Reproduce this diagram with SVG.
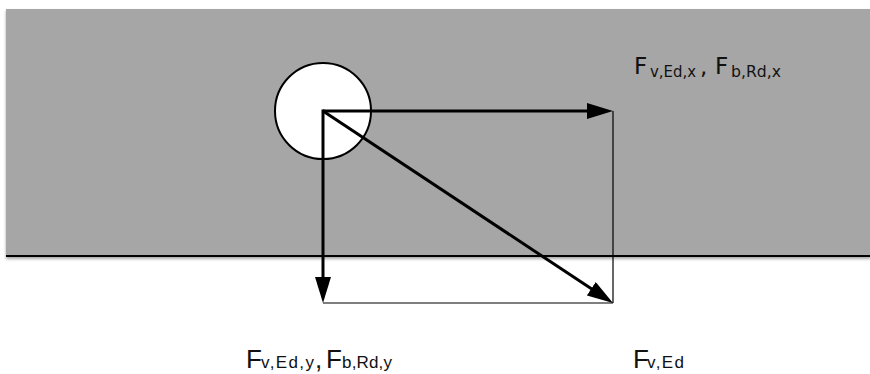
<svg xmlns="http://www.w3.org/2000/svg" width="870" height="374" viewBox="0 0 870 374">
  <style>
    .arrow { stroke: #000; stroke-width: 3; fill: none; }
    .thin { stroke: #000; stroke-width: 1.2; fill: none; }
    .top { font-family: "DejaVu Sans", Verdana, sans-serif; fill: #111; }
    .bot { font-family: "Liberation Sans", Arial, sans-serif; fill: #111; }
  </style>
  <defs>
    <marker id="head" markerUnits="userSpaceOnUse" markerWidth="26" markerHeight="16" refX="6" refY="8" orient="auto">
      <path d="M0,0 L26,8 L0,16 z" fill="#000"/>
    </marker>
    <filter id="shadow" x="-5%" y="-5%" width="110%" height="115%">
      <feDropShadow dx="0" dy="2" stdDeviation="1.5" flood-color="#000" flood-opacity="0.35"/>
    </filter>
  </defs>
  <rect width="870" height="374" fill="#fff"/>
  <g id="plate" filter="url(#shadow)">
    <rect x="6" y="9" width="870" height="247" fill="#a6a6a6"/>
    <line x1="6" y1="256" x2="870" y2="256" stroke="#000" stroke-width="2.2"/>
  </g>
  <g id="bolt">
    <circle cx="323" cy="111" r="48" fill="#fff" stroke="#000" stroke-width="2"/>
  </g>
  <g id="connectors">
    <line class="thin" x1="613" y1="111" x2="613" y2="303"/>
    <line class="thin" x1="323" y1="303" x2="613" y2="303"/>
    <line class="arrow" x1="323" y1="111" x2="593" y2="111" marker-end="url(#head)"/>
    <line class="arrow" x1="323" y1="109.5" x2="323" y2="283" marker-end="url(#head)"/>
    <line class="arrow" x1="323" y1="111" x2="596.3" y2="292" marker-end="url(#head)"/>
  </g>
  <g id="label-x">
    <text class="top" x="634" y="74" font-size="23">F</text>
    <text class="top" x="650" y="77" font-size="16" textLength="46" lengthAdjust="spacingAndGlyphs">v,Ed,x</text>
    <text class="top" x="700" y="74" font-size="23">,</text>
    <text class="top" x="715" y="74" font-size="23">F</text>
    <text class="top" x="731" y="77" font-size="16" textLength="50" lengthAdjust="spacingAndGlyphs">b,Rd,x</text>
  </g>
  <g id="label-y">
    <text class="bot" x="246" y="368" font-size="26">F</text>
    <text class="bot" x="261" y="368" font-size="17" textLength="53" lengthAdjust="spacing">v,Ed,y</text>
    <text class="bot" x="315" y="368" font-size="26">,</text>
    <text class="bot" x="326" y="368" font-size="26">F</text>
    <text class="bot" x="342" y="368" font-size="17" textLength="50" lengthAdjust="spacing">b,Rd,y</text>
  </g>
  <g id="label-ed">
    <text class="bot" x="633" y="368" font-size="26">F</text>
    <text class="bot" x="647" y="368" font-size="17" textLength="37" lengthAdjust="spacing">v,Ed</text>
  </g>
</svg>
